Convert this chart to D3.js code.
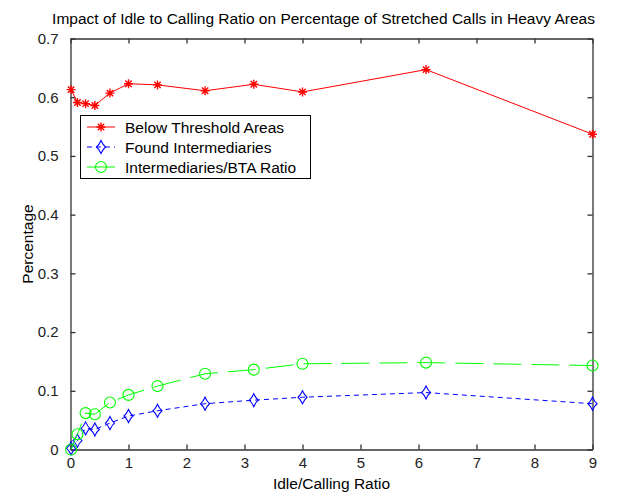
<!DOCTYPE html>
<html lang="en">
<head>
<meta charset="utf-8">
<title>Impact of Idle to Calling Ratio</title>
<script src="https://d3js.org/d3.v7.min.js"></script>
<style>
  body { margin: 0; background: #fff; }
  text { font-family: "Liberation Sans", Arial, sans-serif; }
</style>
</head>
<body>
<script>
// idle/calling ratio (x) shared by the three series
var ratios = [0.01, 0.12, 0.26, 0.42, 0.68, 1.0, 1.5, 2.32, 3.16, 4.0, 6.13, 9.0];
var belowThreshold = [0.613, 0.591, 0.589, 0.586, 0.607, 0.623, 0.621, 0.611, 0.622, 0.609, 0.647, 0.537];
var foundInter     = [0.002, 0.015, 0.036, 0.034, 0.045, 0.057, 0.066, 0.078, 0.084, 0.089, 0.097, 0.078];
var interBtaRatio  = [0.000, 0.026, 0.062, 0.060, 0.080, 0.093, 0.108, 0.129, 0.136, 0.146, 0.148, 0.143];
var xTicks = [0, 1, 2, 3, 4, 5, 6, 7, 8, 9];
var yTicks = [0, 0.1, 0.2, 0.3, 0.4, 0.5, 0.6, 0.7];
var seriesNames = ["Below Threshold Areas", "Found Intermediaries", "Intermediaries/BTA Ratio"];

var W = 621, H = 493;
var pL = 70.5, pR = 592.5, pT = 38.5, pB = 449.5;
var fs = 15.5;

var svg = d3.select("body").append("svg")
    .attr("width", W).attr("height", H);

var x = d3.scaleLinear().domain([0, 9]).range([pL, pR]);
var y = d3.scaleLinear().domain([0, 0.7]).range([pB, pT]);

// axes box with inward ticks on all four sides
var axisColor = "#333";
var tk = 5;
var fmt = function(d) { return d === 0 ? "0" : d3.format(".1f")(d); };

svg.append("g").attr("transform", "translate(0," + pB + ")")
    .call(d3.axisBottom(x).tickValues(xTicks).tickSizeInner(-tk).tickSizeOuter(0).tickPadding(8).tickFormat(d3.format("d")));
svg.append("g").attr("transform", "translate(0," + pT + ")")
    .call(d3.axisTop(x).tickValues(xTicks).tickSizeInner(-tk).tickSizeOuter(0).tickFormat(""));
svg.append("g").attr("transform", "translate(" + pL + ",0)")
    .call(d3.axisLeft(y).tickValues(yTicks).tickSizeInner(-tk).tickSizeOuter(0).tickPadding(12).tickFormat(fmt));
svg.append("g").attr("transform", "translate(" + pR + ",0)")
    .call(d3.axisRight(y).tickValues(yTicks).tickSizeInner(-tk).tickSizeOuter(0).tickFormat(""));

svg.selectAll(".domain").attr("stroke", axisColor).attr("stroke-width", 1.3);
svg.selectAll(".tick line").attr("stroke", axisColor).attr("stroke-width", 1.3);
svg.selectAll(".tick text").attr("fill", "#222").attr("font-size", 15)
    .attr("font-family", "'Liberation Sans', Arial, sans-serif");

// series
var line = d3.line().x(function(d) { return x(d[0]); }).y(function(d) { return y(d[1]); });

function star(g, c) {
  g.append("path").attr("d", "M-4.5,0H4.5M0,-4.5V4.5M-3.2,-3.2L3.2,3.2M-3.2,3.2L3.2,-3.2")
    .attr("stroke", c).attr("stroke-width", 1.4).attr("fill", "none");
}
function diamond(g, c) {
  g.append("path").attr("d", "M0,-6.5Q2,-2 4.5,0Q2,2 0,6.5Q-2,2 -4.5,0Q-2,-2 0,-6.5Z")
    .attr("stroke", c).attr("stroke-width", 1.1).attr("fill", "none");
}
function circ(g, c) {
  g.append("circle").attr("r", 5.5)
    .attr("stroke", c).attr("stroke-width", 1.1).attr("fill", "none");
}

var series = [
  { vals: belowThreshold, color: "#ff0000", dash: null, marker: star },
  { vals: foundInter, color: "#0000ff", dash: "5,4", marker: diamond },
  { vals: interBtaRatio, color: "#00ff00", dash: "28,10", marker: circ }
];

series.forEach(function(s) {
  var pts = ratios.map(function(r, i) { return [r, s.vals[i]]; });
  svg.append("path").datum(pts)
    .attr("d", line)
    .attr("fill", "none")
    .attr("stroke", s.color)
    .attr("stroke-width", 1)
    .attr("stroke-dasharray", s.dash);
  svg.append("g").selectAll("g").data(pts).enter().append("g")
    .attr("transform", function(d) { return "translate(" + x(d[0]) + "," + y(d[1]) + ")"; })
    .each(function() { s.marker(d3.select(this), s.color); });
});

// legend
var lg = svg.append("g");
lg.append("rect").attr("x", 80.5).attr("y", 115.5).attr("width", 230).attr("height", 63)
  .attr("fill", "#fff").attr("stroke", "#000").attr("stroke-width", 1);
series.forEach(function(s, i) {
  var yy = 127 + i * 20;
  lg.append("line").attr("x1", 87).attr("x2", 115).attr("y1", yy).attr("y2", yy)
    .attr("stroke", s.color).attr("stroke-width", 1)
    .attr("stroke-dasharray", i === 1 ? "5,4" : null);
  s.marker(lg.append("g").attr("transform", "translate(101," + yy + ")"), s.color);
  lg.append("text").attr("x", 125).attr("y", yy + 5.5)
    .attr("font-size", fs).attr("fill", "#000").text(seriesNames[i]);
});

// titles
svg.append("text").attr("x", (pL + pR) / 2 - 8).attr("y", 24)
  .attr("text-anchor", "middle").attr("font-size", fs).attr("fill", "#000")
  .text("Impact of Idle to Calling Ratio on Percentage of Stretched Calls in Heavy Areas");
svg.append("text").attr("x", (pL + pR) / 2).attr("y", 489)
  .attr("text-anchor", "middle").attr("font-size", fs).attr("fill", "#000")
  .text("Idle/Calling Ratio");
svg.append("text").attr("transform", "translate(33," + ((pT + pB) / 2) + ") rotate(-90)")
  .attr("text-anchor", "middle").attr("font-size", fs).attr("fill", "#000")
  .text("Percentage");
</script>
</body>
</html>
